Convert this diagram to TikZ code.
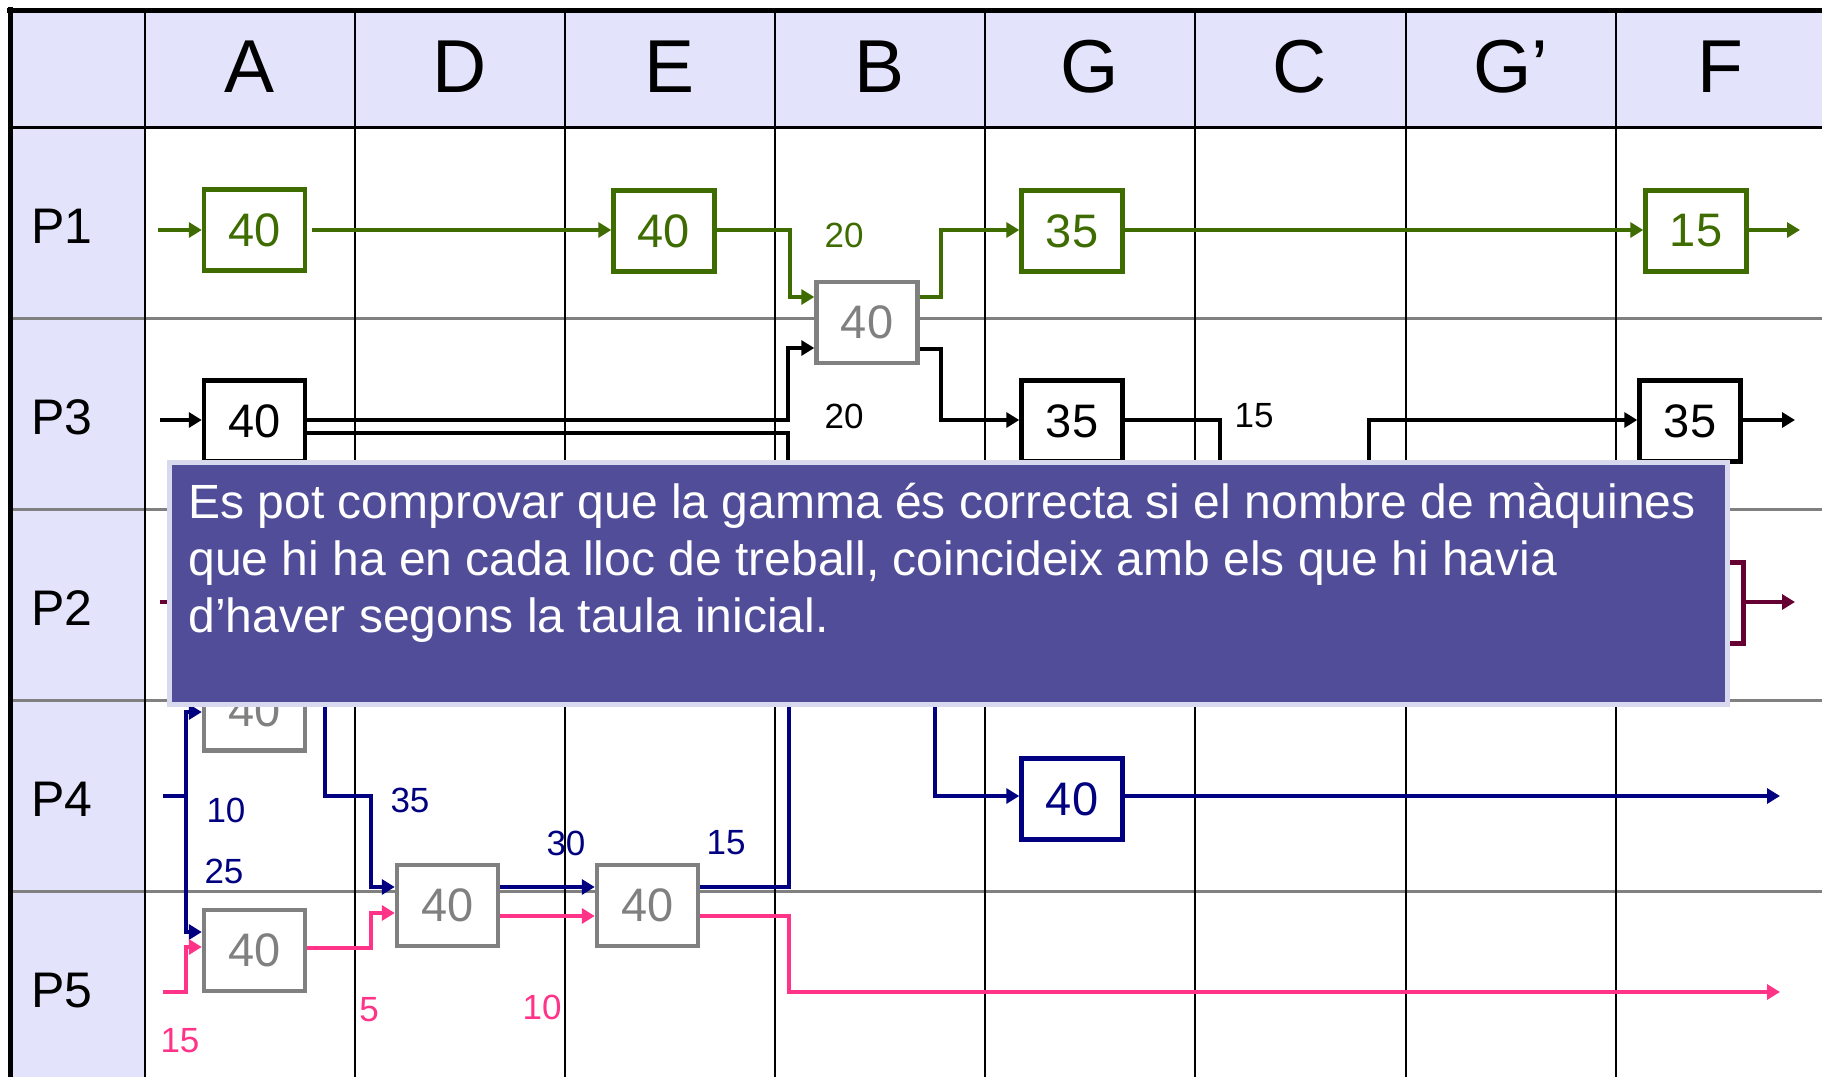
\documentclass[tikz,border=0pt]{standalone}
\usepackage{fontspec}
\setmainfont{Liberation Sans}
\usetikzlibrary{arrows.meta}
\definecolor{lav}{RGB}{227,227,251}
\definecolor{grn}{RGB}{62,108,0}
\definecolor{nvy}{RGB}{0,0,128}
\definecolor{mrn}{RGB}{102,0,51}
\definecolor{pnk}{RGB}{255,51,136}
\definecolor{gry}{RGB}{128,128,128}
\definecolor{ovf}{RGB}{81,77,153}
\definecolor{ovb}{RGB}{216,216,238}
\begin{document}
\begin{tikzpicture}[x=0.5pt,y=-0.5pt,
  arw/.style={-{Triangle[length=6.5pt,width=7.5pt]}},
  conn/.style={line width=2.3pt, arw},
  gcon/.style={conn, draw=grn, line width=2.1pt},
  kcon/.style={conn, draw=black},
  mcon/.style={conn, draw=mrn, line width=2.1pt},
  ncon/.style={conn, draw=nvy},
  pcon/.style={conn, draw=pnk},
  mbox/.style={draw, line width=2.2pt, fill=white, minimum width=50.5pt, minimum height=40.5pt, inner sep=0pt, font=\fontsize{23.5}{26}\selectfont},
  gbox/.style={mbox, draw=gry, text=gry},
  grbox/.style={mbox, draw=grn, text=grn},
  kbox/.style={mbox, draw=black, text=black},
  mrbox/.style={mbox, draw=mrn, text=mrn},
  nbox/.style={mbox, draw=nvy, text=nvy},
  lbl/.style={inner sep=0pt, font=\fontsize{17.5}{20}\selectfont},
  hdr/.style={inner sep=0pt, anchor=base, font=\fontsize{37.5}{40}\selectfont},
  rowl/.style={inner sep=0pt, anchor=base west, font=\fontsize{25}{28}\selectfont},
  ovt/.style={inner sep=0pt, anchor=base west, text=white, font=\fontsize{24}{28}\selectfont}
]
\useasboundingbox (0,0) rectangle (1822,1077);
% table background
\fill[white] (0,0) rectangle (1822,1077);
\fill[lav] (10,10) rectangle (1822,127);
\fill[lav] (10,127) rectangle (145,1077);
\foreach \y in {318,509,700,891} \draw[gry, line width=1.5pt] (10,\y) -- (1822,\y);
\draw[line width=1.5pt] (10,127) -- (1822,127);
\foreach \x in {145,355,565,775,985,1195,1406,1616} \draw[line width=1pt] (\x,10) -- (\x,1077);
\draw[line width=2.5pt] (7,10) -- (1822,10);
\draw[line width=2.5pt] (10,7) -- (10,1077);
% headers
\node[hdr] (hA) at (250,92) {A};
\node[hdr] (hD) at (460,92) {D};
\node[hdr] (hE) at (670,92) {E};
\node[hdr] (hB) at (880,92) {B};
\node[hdr] (hG) at (1090,92) {G};
\node[hdr] (hC) at (1300,92) {C};
\node[hdr] (hGp) at (1511,92) {G’};
\node[hdr] (hF) at (1720,92) {F};
\node[rowl] (r1) at (31,243) {P1};
\node[rowl] (r3) at (31,434) {P3};
\node[rowl] (r2) at (31,625) {P2};
\node[rowl] (r4) at (31,816) {P4};
\node[rowl] (r5) at (31,1007) {P5};
% boxes
\node[grbox] (gA1) at (254.5,230) {40};
\node[grbox] (gE1) at (664,231) {40};
\node[gbox] (gB) at (867,322.5) {40};
\node[grbox] (gG1) at (1072,231) {35};
\node[grbox] (gF1) at (1696,231) {15};
\node[kbox] (kA3) at (254.5,421) {40};
\node[kbox] (kG3) at (1072,421) {35};
\node[kbox] (kF3) at (1690,421) {35};
\node[mrbox] (mF2) at (1693,603) {};
\node[nbox] (nG4) at (1072,799) {40};
\node[gbox] (gA4) at (254.5,710) {40};
\node[gbox] (gA5) at (254.5,950.5) {40};
\node[gbox] (gD) at (447.5,905.5) {40};
\node[gbox] (gE) at (647.5,905.5) {40};
% P1 green
\coordinate (g0) at (158,230);
\coordinate (g9) at (1800,230);
\draw[gcon] (g0) -- (gA1.west |- 0,230);
\draw[gcon, shorten <=2.5pt] (gA1.east |- 0,230) -- (gE1.west |- 0,230);
\draw[gcon] (gE1.east |- 0,230) -- (790,230) |- (gB.west |- 0,297);
\draw[gcon] (gB.east |- 0,297) -- (941,297) |- (gG1.west |- 0,230);
\draw[gcon] (gG1.east |- 0,230) -- (gF1.west |- 0,230);
\draw[gcon] (gF1.east |- 0,230) -- (g9);
% P3 black
\coordinate (k0) at (160,420);
\coordinate (k1) at (788,600);
\coordinate (k9) at (1795,420);
\draw[kcon] (k0) -- (kA3.west |- 0,420);
\draw[kcon] (kA3.east |- 0,420) -- (788,420) |- (gB.west |- 0,348);
\draw[kcon, -] (kA3.east |- 0,433) -- (788,433) -- (k1);
\draw[kcon] (gB.east |- 0,349) -- (941,349) |- (kG3.west |- 0,420);
\draw[kcon] (kG3.east |- 0,420) -- (1220,420) -- (1220,540) -| (1369,420) -- (kF3.west |- 0,420);
\draw[kcon] (kF3.east |- 0,420) -- (k9);
% P2 maroon
\coordinate (m0) at (160,602);
\coordinate (m9) at (1795,602);
\draw[mcon] (m0) -- (mF2.west |- 0,602);
\draw[mcon] (mF2.east |- 0,602) -- (m9);
% P4 navy
\coordinate (n0) at (163,796);
\coordinate (n1) at (789,620);
\coordinate (n2) at (935,620);
\coordinate (n9) at (1780,796);
\draw[ncon] (n0) -- (186,796) |- (gA4.west |- 0,712);
\draw[ncon] (186,796) |- (gA5.west |- 0,932);
\draw[ncon] (gA4.east |- 0,690) -- (325,690) |- (371,796) |- (gD.west |- 0,887);
\draw[ncon] (gD.east |- 0,887) -- (gE.west |- 0,887);
\draw[ncon, -] (gE.east |- 0,887) -- (789,887) -- (n1);
\draw[ncon] (n2) |- (nG4.west |- 0,796);
\draw[ncon] (nG4.east |- 0,796) -- (n9);
% P5 pink
\coordinate (p0) at (163,992);
\coordinate (p9) at (1780,992);
\draw[pcon] (p0) -- (186,992) |- (gA5.west |- 0,947);
\draw[pcon] (gA5.east |- 0,948) -- (371,948) |- (gD.west |- 0,913);
\draw[pcon] (gD.east |- 0,916) -- (gE.west |- 0,916);
\draw[pcon] (gE.east |- 0,916) -- (789,916) |- (p9);
% labels
\node[lbl, text=grn] (l1) at (844,235) {20};
\node[lbl] (l2) at (844,416) {20};
\node[lbl] (l3) at (1254,416) {15};
\node[lbl, text=nvy] (l4) at (226,810) {10};
\node[lbl, text=nvy] (l5) at (224,871) {25};
\node[lbl, text=nvy] (l6) at (410,800) {35};
\node[lbl, text=nvy] (l7) at (566,843) {30};
\node[lbl, text=nvy] (l8) at (726,843) {15};
\node[lbl, text=pnk] (l9) at (180,1041) {15};
\node[lbl, text=pnk] (l10) at (369,1010) {5};
\node[lbl, text=pnk] (l11) at (542,1007) {10};
% overlay
\node[draw=ovb, line width=2.5pt, fill=ovf, minimum width=779pt, minimum height=121pt, inner sep=0pt, anchor=north west] (ov) at (167,460) {};
\node[ovt] (t1) at (188,518) {Es pot comprovar que la gamma és correcta si el nombre de màquines};
\node[ovt] (t2) at (188,575) {que hi ha en cada lloc de treball, coincideix amb els que hi havia};
\node[ovt] (t3) at (188,632) {d’haver segons la taula inicial.};
\end{tikzpicture}
\end{document}
